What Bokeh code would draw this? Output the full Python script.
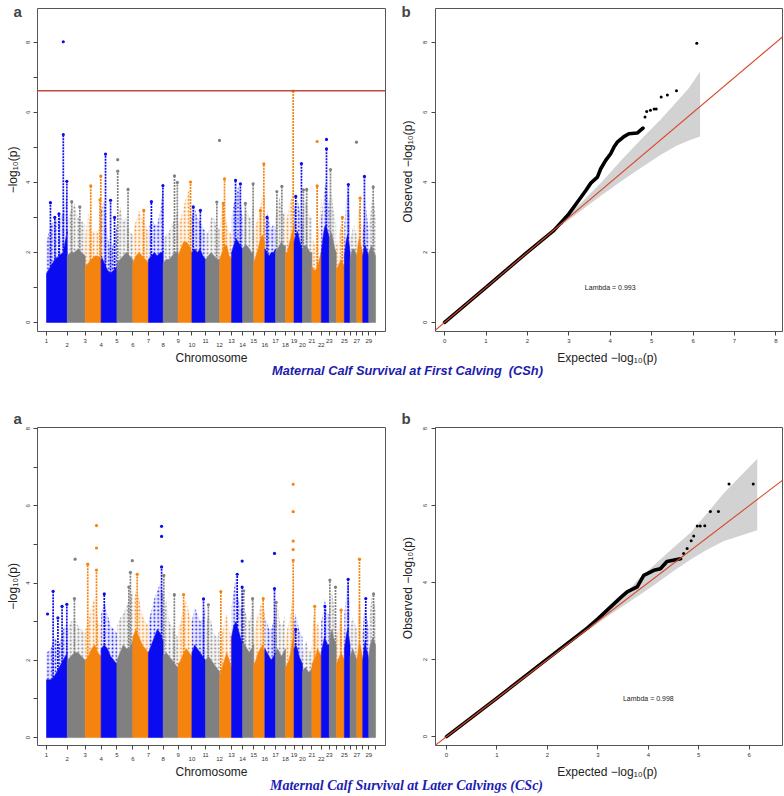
import numpy as np
from bokeh.plotting import figure
from bokeh.models import (Range1d, FixedTicker, Label, Span, Slope, Div, LinearAxis,
                          CustomJSTickFormatter)
from bokeh.layouts import column, row
from bokeh.embed import file_html
from bokeh.resources import INLINE

# ------------------------------------------------------------------ data
CHR_NAMES = [str(i) for i in range(1, 30)]
CHR_LEN_MB = [158.3, 137.1, 121.4, 120.8, 121.2, 119.5, 112.6, 113.4, 105.7, 104.3,
              107.3, 91.2, 84.2, 84.6, 85.3, 81.7, 75.2, 66.0, 64.1, 72.0,
              71.6, 61.4, 52.5, 62.7, 42.9, 51.7, 45.4, 46.3, 51.5]
SHOWN_CHR_LABELS = [str(i) for i in range(1, 24)] + ["25", "27", "29"]
ENV_FRAC = [0.0, 0.2, 0.4, 0.6, 0.8, 1.0]

# First calving (CSh): dense-cloud top and sparse-cloud top per chromosome
CSH_DENSE = [
    [1.4, 1.6, 1.8, 1.9, 2.0, 2.6], [1.9, 2.0, 2.0, 2.1, 2.0, 1.9], [1.6, 1.7, 1.8, 1.9, 1.9, 1.8],
    [1.9, 1.7, 1.5, 1.4, 1.5, 1.6], [1.7, 1.8, 1.9, 2.0, 1.9, 1.8], [1.7, 1.9, 2.0, 1.9, 1.8, 1.7],
    [1.8, 1.9, 2.0, 1.9, 2.0, 2.0], [1.7, 1.8, 1.8, 1.9, 2.0, 2.0], [1.9, 2.1, 2.3, 2.3, 2.2, 2.0],
    [2.0, 2.1, 2.0, 2.1, 1.9, 1.8], [1.8, 1.9, 2.0, 1.9, 1.8, 1.8], [1.8, 2.0, 2.2, 2.2, 1.9, 1.8],
    [2.0, 2.2, 2.4, 2.3, 2.2, 2.1], [2.1, 2.2, 2.2, 2.1, 2.0, 2.0], [1.7, 1.9, 2.1, 2.4, 2.5, 2.3],
    [2.1, 2.0, 1.9, 2.0, 2.0, 2.1], [2.0, 2.1, 2.2, 2.3, 2.2, 2.2], [2.0, 2.0, 2.2, 2.4, 2.6, 2.8],
    [2.3, 2.5, 2.6, 2.4, 2.2, 2.1], [2.1, 2.2, 2.2, 2.1, 2.0, 2.0], [1.6, 1.5, 1.5, 1.6, 1.8, 2.0],
    [2.0, 2.4, 2.7, 2.8, 2.6, 2.4], [2.4, 2.6, 2.5, 2.3, 2.1, 2.0], [1.5, 1.6, 1.7, 1.8, 1.7, 1.6],
    [1.9, 2.2, 2.4, 2.5, 2.3, 2.0], [1.8, 2.0, 2.1, 2.1, 2.0, 1.9], [1.9, 2.2, 2.4, 2.3, 2.1, 2.0],
    [1.9, 2.1, 2.2, 2.1, 2.0, 1.9], [2.0, 2.1, 2.2, 2.1, 2.0, 1.9]]
CSH_SPARSE = [
    [2.3, 2.8, 2.9, 3.0, 3.1, 3.8], [2.9, 3.2, 3.4, 3.0, 2.9, 2.8], [2.4, 3.2, 2.6, 2.6, 2.6, 3.1],
    [3.2, 3.5, 2.5, 2.0, 2.3, 2.8], [2.7, 3.3, 2.9, 3.0, 2.6, 2.5], [2.6, 2.9, 3.2, 3.0, 2.8, 2.6],
    [2.7, 3.0, 2.8, 2.8, 3.2, 3.9], [2.4, 2.5, 2.6, 2.8, 3.0, 3.2], [2.8, 3.0, 3.3, 3.6, 3.8, 3.0],
    [3.0, 3.3, 3.0, 2.9, 2.7, 2.6], [2.5, 2.6, 3.0, 3.0, 2.7, 2.7], [2.7, 3.4, 3.2, 2.8, 2.6, 2.5],
    [3.0, 3.4, 3.6, 3.9, 3.5, 3.0], [2.7, 3.2, 3.2, 3.0, 3.0, 3.4], [2.6, 2.8, 3.0, 3.3, 3.7, 3.6],
    [2.8, 3.2, 2.9, 2.7, 2.8, 2.7], [3.0, 3.3, 3.6, 3.2, 3.1, 3.2], [2.9, 3.0, 3.3, 3.5, 3.6, 4.0],
    [3.2, 3.5, 3.5, 3.3, 3.0, 2.8], [3.0, 3.4, 3.5, 3.2, 3.0, 3.0], [2.4, 2.3, 2.2, 2.5, 3.0, 3.6],
    [3.0, 3.4, 3.8, 4.0, 3.6, 3.2], [3.4, 3.8, 3.6, 3.2, 3.0, 2.8], [2.2, 2.3, 2.6, 2.8, 2.6, 2.4],
    [2.8, 3.2, 3.6, 3.9, 3.6, 3.0], [2.4, 2.5, 2.7, 2.8, 2.6, 2.5], [2.6, 3.0, 3.4, 3.0, 2.8, 2.6],
    [2.5, 2.9, 3.6, 3.2, 2.9, 2.6], [2.8, 3.0, 3.4, 3.6, 3.4, 3.0]]
CSH_PEAK_CHR = [1, 1, 1, 1, 1, 2, 2, 3, 3, 3, 4, 4, 4, 5, 5, 6, 7, 7, 8, 8, 9, 10, 10, 11, 12, 12,
                13, 13, 14, 14, 15, 15, 16, 17, 17, 18, 19, 19, 20, 20, 21, 22, 23, 24, 25, 27, 28, 29]
CSH_PEAK_POS = [0.19, 0.40, 0.60, 0.81, 0.98, 0.25, 0.70, 0.35, 0.98, 0.93, 0.28, 0.60, 0.85, 0.05,
                0.70, 0.70, 0.20, 0.98, 0.76, 0.95, 0.90, 0.10, 0.62, 0.80, 0.41, 0.30, 0.36, 0.80,
                0.25, 0.95, 0.91, 0.60, 0.20, 0.13, 0.64, 0.90, 0.88, 0.20, 0.10, 0.45, 0.56, 0.65,
                0.17, 0.75, 0.70, 0.55, 0.28, 0.65]
CSH_PEAK_TOP = [3.42, 3.0, 3.1, 5.37, 4.03, 3.45, 3.3, 3.9, 4.18, 3.5, 4.81, 3.49, 3.0, 4.32,
                3.8, 3.2, 3.45, 3.91, 4.19, 4.0, 4.01, 3.3, 3.2, 3.44, 4.1, 3.4, 4.06, 3.96,
                3.4, 3.96, 4.53, 3.2, 3.0, 3.74, 3.89, 6.61, 4.54, 3.6, 3.79, 3.8, 3.9, 4.96,
                4.37, 3.0, 3.94, 3.55, 4.17, 3.87]
CSH_DOT_CHR = [1, 5, 11, 21, 22, 26]
CSH_DOT_POS = [0.81, 0.05, 0.99, 0.56, 0.65, 0.95]
CSH_DOT_VAL = [8.02, 4.65, 5.2, 5.17, 5.23, 5.15]
CSH_THRESHOLD = 6.62

# Later calvings (CSc)
CSC_DENSE = [
    [1.5, 1.5, 1.6, 1.8, 2.0, 2.2], [2.0, 2.1, 2.2, 2.2, 2.1, 2.0], [2.0, 2.1, 2.3, 2.4, 2.2, 2.1],
    [2.3, 2.4, 2.3, 2.1, 2.0, 1.9], [2.0, 2.2, 2.4, 2.3, 2.3, 2.5], [2.6, 2.8, 2.6, 2.4, 2.3, 2.2],
    [2.2, 2.4, 2.6, 2.8, 2.7, 2.5], [2.1, 2.2, 2.1, 2.0, 1.9, 1.8], [1.9, 2.0, 2.2, 2.3, 2.2, 2.1],
    [2.2, 2.4, 2.3, 2.2, 2.1, 2.0], [2.0, 2.1, 2.0, 1.9, 1.8, 1.7], [1.6, 1.8, 2.0, 2.2, 2.0, 1.8],
    [2.6, 2.9, 3.0, 2.8, 2.6, 2.4], [2.5, 2.4, 2.3, 2.2, 2.3, 2.4], [1.9, 2.0, 2.2, 2.3, 2.4, 2.2],
    [2.3, 2.2, 2.1, 2.0, 2.1, 2.2], [2.2, 2.3, 2.2, 2.1, 2.2, 2.3], [1.8, 1.9, 2.0, 2.2, 2.5, 2.8],
    [2.3, 2.4, 2.3, 2.1, 2.0, 1.9], [1.7, 1.8, 1.8, 1.7, 1.7, 1.8], [1.9, 2.0, 2.1, 2.3, 2.2, 2.1],
    [2.2, 2.4, 2.6, 2.5, 2.4, 2.4], [2.4, 2.7, 2.8, 2.6, 2.5, 2.4], [1.9, 2.0, 2.1, 2.2, 2.1, 2.0],
    [2.3, 2.5, 2.7, 2.8, 2.6, 2.4], [2.1, 2.2, 2.3, 2.2, 2.1, 2.0], [2.0, 2.2, 2.5, 2.4, 2.2, 2.0],
    [2.0, 2.3, 2.5, 2.3, 2.2, 2.0], [2.1, 2.4, 2.5, 2.6, 2.5, 2.4]]
CSC_SPARSE = [
    [2.2, 2.3, 2.6, 2.4, 2.8, 3.0], [2.8, 3.0, 3.1, 2.9, 2.8, 2.7], [2.8, 3.0, 3.4, 3.6, 3.0, 2.9],
    [3.2, 3.5, 3.2, 2.9, 2.8, 2.7], [2.9, 3.1, 3.2, 3.4, 3.6, 3.8], [3.4, 3.8, 3.6, 3.2, 3.0, 2.9],
    [3.0, 3.3, 3.6, 3.8, 4.0, 3.7], [2.9, 3.6, 3.0, 2.9, 2.7, 2.6], [2.8, 3.0, 3.4, 3.6, 3.2, 3.0],
    [3.0, 3.4, 3.2, 3.0, 3.1, 3.4], [2.8, 3.2, 3.0, 2.7, 2.6, 2.8], [2.3, 2.7, 3.0, 3.2, 2.8, 2.6],
    [3.4, 3.8, 4.2, 3.6, 3.4, 3.3], [3.4, 3.3, 3.1, 3.0, 3.2, 3.6], [2.6, 3.0, 3.2, 3.4, 3.5, 3.2],
    [3.1, 3.0, 2.8, 2.8, 3.0, 3.2], [3.2, 3.6, 3.0, 2.9, 3.0, 3.2], [2.5, 2.8, 3.0, 3.2, 3.6, 4.2],
    [3.0, 3.2, 3.0, 2.8, 2.7, 2.6], [2.2, 2.4, 2.5, 2.3, 2.2, 2.4], [2.6, 3.2, 2.8, 3.0, 2.8, 2.7],
    [3.0, 3.2, 3.6, 3.4, 3.2, 3.2], [3.4, 3.6, 3.8, 3.5, 3.3, 3.1], [2.6, 2.8, 3.0, 3.2, 2.9, 2.7],
    [3.2, 3.5, 3.8, 4.1, 3.8, 3.4], [2.8, 3.0, 3.1, 3.0, 2.9, 2.8], [2.8, 3.2, 3.6, 3.4, 3.0, 2.8],
    [2.7, 3.2, 3.4, 3.2, 3.0, 2.8], [2.9, 3.3, 3.6, 3.7, 3.5, 3.3]]
CSC_PEAK_CHR = [1, 1, 1, 1, 2, 3, 3, 4, 5, 5, 6, 7, 8, 8, 9, 10, 11, 12, 13, 13, 14, 14, 15,
                16, 17, 18, 19, 21, 22, 23, 23, 24, 25, 27, 28, 29]
CSC_PEAK_POS = [0.32, 0.55, 0.75, 0.98, 0.40, 0.16, 0.71, 0.20, 0.85, 0.75, 0.28, 0.89, 0.04,
                0.75, 0.40, 0.85, 0.20, 0.10, 0.51, 0.96, 0.10, 0.90, 0.85, 0.90, 0.05, 0.90,
                0.20, 0.30, 0.45, 0.08, 0.90, 0.60, 0.67, 0.45, 0.50, 0.70]
CSC_PEAK_TOP = [3.79, 3.1, 3.4, 3.45, 3.6, 4.49, 4.34, 3.72, 4.28, 3.9, 4.23, 4.42, 4.2,
                3.7, 3.7, 3.59, 3.44, 3.78, 4.23, 3.9, 3.8, 3.6, 3.6, 3.86, 3.5, 4.59,
                2.8, 3.4, 3.4, 4.08, 3.9, 3.3, 4.1, 4.62, 3.6, 3.72]
CSC_DOT_CHR = [1, 2, 3, 3, 5, 7, 7, 13, 16, 18, 18, 18, 18]
CSC_DOT_POS = [0.05, 0.44, 0.71, 0.71, 0.97, 0.89, 0.89, 0.96, 0.90, 0.90, 0.90, 0.90, 0.90]
CSC_DOT_VAL = [3.2, 4.62, 4.91, 5.49, 4.58, 5.21, 5.47, 4.57, 4.77, 4.87, 5.09, 5.85, 6.56]

# QQ plots
QQ1_EXP = [0.0, 1.0, 2.0, 2.64, 3.0, 3.24, 3.41, 3.53, 3.69, 3.77, 3.89, 4.01, 4.09, 4.17, 4.33, 4.45, 4.65, 4.79]
QQ1_OBS = [0.0, 1.0, 2.01, 2.63, 3.1, 3.49, 3.77, 3.98, 4.15, 4.39, 4.63, 4.82, 5.01, 5.15, 5.31, 5.39, 5.41, 5.55]
QQ1_TAIL_EXP = [4.84, 4.88, 4.97, 5.06, 5.11, 5.23, 5.38, 5.6, 6.09]
QQ1_TAIL_OBS = [5.87, 6.03, 6.06, 6.1, 6.1, 6.44, 6.5, 6.62, 7.98]
QQ1_BAND_EXP = [2.8, 3.3, 3.8, 4.3, 4.8, 5.2, 5.6, 5.9, 6.17]
QQ1_BAND_UP = [2.86, 3.42, 4.02, 4.68, 5.3, 5.78, 6.3, 6.7, 7.17]
QQ1_BAND_LO = [2.75, 3.2, 3.64, 4.06, 4.46, 4.78, 5.05, 5.2, 5.31]
LAMBDA_CSH = "Lambda = 0.993"

QQ2_EXP = [0.0, 1.0, 2.0, 2.79, 3.0, 3.45, 3.58, 3.78, 3.91, 4.11, 4.24, 4.37, 4.64]
QQ2_OBS = [0.0, 1.0, 2.02, 2.82, 3.06, 3.61, 3.76, 3.89, 4.19, 4.32, 4.36, 4.55, 4.62]
QQ2_TAIL_EXP = [4.7, 4.77, 4.85, 4.9, 4.97, 5.03, 5.12, 5.23, 5.39, 5.6, 6.08]
QQ2_TAIL_OBS = [4.76, 4.89, 5.09, 5.21, 5.47, 5.47, 5.48, 5.85, 5.85, 6.56, 6.56]
QQ2_BAND_EXP = [2.8, 3.3, 3.85, 4.18, 4.5, 4.84, 5.17, 5.5, 6.16]
QQ2_BAND_UP = [2.84, 3.38, 4.15, 4.53, 4.91, 5.3, 5.81, 6.33, 7.22]
QQ2_BAND_LO = [2.76, 3.22, 3.7, 4.0, 4.3, 4.6, 4.86, 5.08, 5.36]
LAMBDA_CSC = "Lambda = 0.998"

CAPTION_CSH = "Maternal Calf Survival at First Calving&nbsp;&nbsp;(CSh)"
CAPTION_CSC = "Maternal Calf Survival at Later Calvings (CSc)"

# ------------------------------------------------------------------ style / geometry
COLS = ["#0b0bf2", "#808080", "#f5840f"]
FONT = "Liberation Sans"
NEG_LOG = "\u2212log\u2081\u2080(p)"

MAN_W, QQ_W = 392, 392
ROW1_H, ROW2_H = 367, 401
MAN_X = (-68.7, 2587.8)
TOP_Y = (-0.26, 8.97)
BOT_Y = (-0.205, 8.03)
QQ1_X = (-0.22, 8.16)
QQ2_X = (-0.218, 6.66)
QQ2_Y = (-0.23, 8.03)


def style_axis(ax):
    ax.axis_line_color = None
    ax.major_tick_line_color = "#444444"
    ax.major_tick_out = 4
    ax.major_tick_in = 0
    ax.minor_tick_line_color = None
    ax.major_label_text_font = FONT
    ax.major_label_text_font_size = "6px"
    ax.major_label_text_color = "#333333"
    ax.axis_label_text_font = FONT
    ax.axis_label_text_font_style = "normal"
    ax.axis_label_text_font_size = "12px"
    ax.axis_label_text_color = "#222222"


def base_fig(w, h, xr, yr, left, right, top, bottom):
    p = figure(width=w, height=h, x_range=Range1d(*xr), y_range=Range1d(*yr),
               output_backend="svg", toolbar_location=None,
               min_border_left=left, min_border_right=right,
               min_border_top=top, min_border_bottom=bottom)
    p.xgrid.visible = False
    p.ygrid.visible = False
    p.outline_line_color = "#555555"
    p.outline_line_width = 1
    p.background_fill_color = "white"
    p.border_fill_color = "white"
    for ax in p.axis:
        style_axis(ax)
    p.yaxis.major_label_orientation = "vertical"
    return p


def title_letter(p, txt, offset, standoff):
    p.title.text = txt
    p.title.text_font = FONT
    p.title.text_font_style = "bold"
    p.title.text_font_size = "15px"
    p.title.align = "left"
    p.title.offset = offset
    p.title.standoff = standoff


starts = np.concatenate([[0.0], np.cumsum(CHR_LEN_MB)[:-1]])
total = float(np.sum(CHR_LEN_MB))


def manhattan(p, dense, sparse, pk_chr, pk_pos, pk_top, dot_chr, dot_pos, dot_val):
    xs_d, ys_d, xs_s, ys_s, cols = [], [], [], [], []
    for i in range(29):
        xs = list(starts[i] + np.array(ENV_FRAC) * CHR_LEN_MB[i])
        xs_d.append([xs[0]] + xs + [xs[-1]])
        ys_d.append([0.0] + list(dense[i]) + [0.0])
        xs_s.append(xs + xs[::-1])
        ys_s.append(list(sparse[i]) + list(dense[i])[::-1])
        cols.append(COLS[i % 3])
    p.patches(xs=xs_s, ys=ys_s, fill_color=cols, fill_alpha=0.08, line_color=None,
              hatch_pattern=".", hatch_color=cols, hatch_scale=3.8, hatch_weight=1.2)
    p.patches(xs=xs_d, ys=ys_d, fill_color=cols, line_color=cols, line_width=0.6)
    # streaks of associated SNPs
    x0, y0, y1, c = [], [], [], []
    for ch, pos, top in zip(pk_chr, pk_pos, pk_top):
        i = ch - 1
        x0.append(starts[i] + pos * CHR_LEN_MB[i])
        y0.append(float(np.interp(pos, ENV_FRAC, dense[i])))
        y1.append(top)
        c.append(COLS[i % 3])
    p.segment(x0=x0, y0=y0, x1=x0, y1=y1, line_color=c, line_width=1.7, line_dash="2 1")
    p.scatter(x=x0, y=y1, size=3.2, fill_color=c, line_color=None)
    dx, dc = [], []
    for ch, pos in zip(dot_chr, dot_pos):
        i = ch - 1
        dx.append(starts[i] + pos * CHR_LEN_MB[i])
        dc.append(COLS[i % 3])
    p.scatter(x=dx, y=dot_val, size=3.2, fill_color=dc, line_color=None)

    # y axis
    p.yaxis.ticker = FixedTicker(ticks=[0, 2, 4, 6, 8], minor_ticks=[1, 3, 5, 7])
    p.yaxis.minor_tick_line_color = "#444444"
    p.yaxis.minor_tick_out = 4
    p.yaxis.minor_tick_in = 0
    p.yaxis.axis_label = NEG_LOG
    p.yaxis.major_label_standoff = 3
    p.yaxis.axis_label_standoff = 4
    # x axis: ticks at chromosome starts, odd labels on the upper row
    ticks = list(starts) + [total]
    upper = [CHR_NAMES[i] if (i < 29 and CHR_NAMES[i] in SHOWN_CHR_LABELS and i % 2 == 0) else ""
             for i in range(30)]
    p.xaxis.ticker = FixedTicker(ticks=ticks, minor_ticks=[])
    p.xaxis.formatter = CustomJSTickFormatter(args=dict(labels=upper),
                                              code="return labels[index] || '';")
    p.xaxis.major_label_standoff = 3
    # even labels on a lower row
    low_idx = [i for i in range(29) if CHR_NAMES[i] in SHOWN_CHR_LABELS and i % 2 == 1]
    lower_ax = LinearAxis(ticker=FixedTicker(ticks=[starts[i] for i in low_idx], minor_ticks=[]),
                          formatter=CustomJSTickFormatter(
                              args=dict(labels=[CHR_NAMES[i] for i in low_idx]),
                              code="return labels[index] || '';"))
    style_axis(lower_ax)
    lower_ax.major_tick_line_color = None
    lower_ax.major_tick_out = 0
    lower_ax.major_label_standoff = -3
    lower_ax.axis_label = "Chromosome"
    lower_ax.axis_label_standoff = 1
    p.add_layout(lower_ax, "below")


def qq(p, ex, ob, tex, tob, bx, bup, blo, lam, lam_y, xmax):
    p.varea(x=bx, y1=blo, y2=bup, fill_color="#d2d2d2")
    p.line(x=ex, y=ob, line_color="black", line_width=3.6, line_join="round", line_cap="round")
    p.scatter(x=tex, y=tob, size=3, fill_color="black", line_color=None)
    p.add_layout(Slope(gradient=1, y_intercept=0, line_color="#d9472b", line_width=1.1))
    p.add_layout(Label(x=4.0, y=lam_y, text=lam, text_font=FONT, text_font_size="7px",
                       text_align="center", text_baseline="middle", text_color="#222222"))
    p.xaxis.ticker = FixedTicker(ticks=list(range(xmax + 1)), minor_ticks=[])
    p.yaxis.ticker = FixedTicker(ticks=[0, 2, 4, 6, 8], minor_ticks=[])
    p.xaxis.axis_label = "Expected  " + NEG_LOG
    p.yaxis.axis_label = "Observed  " + NEG_LOG
    p.xaxis.major_label_standoff = 3
    p.xaxis.axis_label_standoff = 5
    p.yaxis.major_label_standoff = 4
    p.yaxis.axis_label_standoff = 6


# ------------------------------------------------------------------ panels
# row 1 : page y 0..367 ; frame 8..331
p1 = base_fig(MAN_W, ROW1_H, MAN_X, TOP_Y, 37, 7, 8, 36)
manhattan(p1, CSH_DENSE, CSH_SPARSE, CSH_PEAK_CHR, CSH_PEAK_POS, CSH_PEAK_TOP,
          CSH_DOT_CHR, CSH_DOT_POS, CSH_DOT_VAL)
p1.add_layout(Span(location=CSH_THRESHOLD, dimension="width", line_color="#bf4a3e", line_width=1.5))
title_letter(p1, "a", -24, -22)

p2 = base_fig(QQ_W, ROW1_H, QQ1_X, TOP_Y, 43, 2, 8, 36)
qq(p2, QQ1_EXP, QQ1_OBS, QQ1_TAIL_EXP, QQ1_TAIL_OBS, QQ1_BAND_EXP, QQ1_BAND_UP, QQ1_BAND_LO,
   LAMBDA_CSH, 0.99, 8)
title_letter(p2, "b", -34, -22)

cap1 = Div(width=784, height=13, margin=(-4, 0, 4, 0), text=(
    "<div style=\"margin-left:272px;font-family:'Liberation Sans',Arial,sans-serif;"
    "font-weight:bold;font-style:italic;font-size:12.8px;line-height:13px;"
    "color:#1c1cae;white-space:nowrap\">" + CAPTION_CSH + "</div>"))

# row 2 : page y 380..781 ; frame 427..745
p3 = base_fig(MAN_W, ROW2_H, MAN_X, BOT_Y, 37, 7, 47, 36)
manhattan(p3, CSC_DENSE, CSC_SPARSE, CSC_PEAK_CHR, CSC_PEAK_POS, CSC_PEAK_TOP,
          CSC_DOT_CHR, CSC_DOT_POS, CSC_DOT_VAL)
title_letter(p3, "a", -24, 2)

p4 = base_fig(QQ_W, ROW2_H, QQ2_X, QQ2_Y, 43, 2, 47, 36)
qq(p4, QQ2_EXP, QQ2_OBS, QQ2_TAIL_EXP, QQ2_TAIL_OBS, QQ2_BAND_EXP, QQ2_BAND_UP, QQ2_BAND_LO,
   LAMBDA_CSC, 0.98, 6)
title_letter(p4, "b", -34, 2)

cap2 = Div(width=784, height=14, margin=(-3, 0, 3, 0), text=(
    "<div style=\"margin-left:270px;font-family:'Liberation Serif','Times New Roman',serif;"
    "font-weight:bold;font-style:italic;font-size:14px;line-height:14px;"
    "color:#1c1cb4;white-space:nowrap\">" + CAPTION_CSC + "</div>"))

layout = column(row(p1, p2), cap1, row(p3, p4), cap2)
open("out.html", "w").write(file_html(layout, INLINE, title="Manhattan and QQ plots"))
